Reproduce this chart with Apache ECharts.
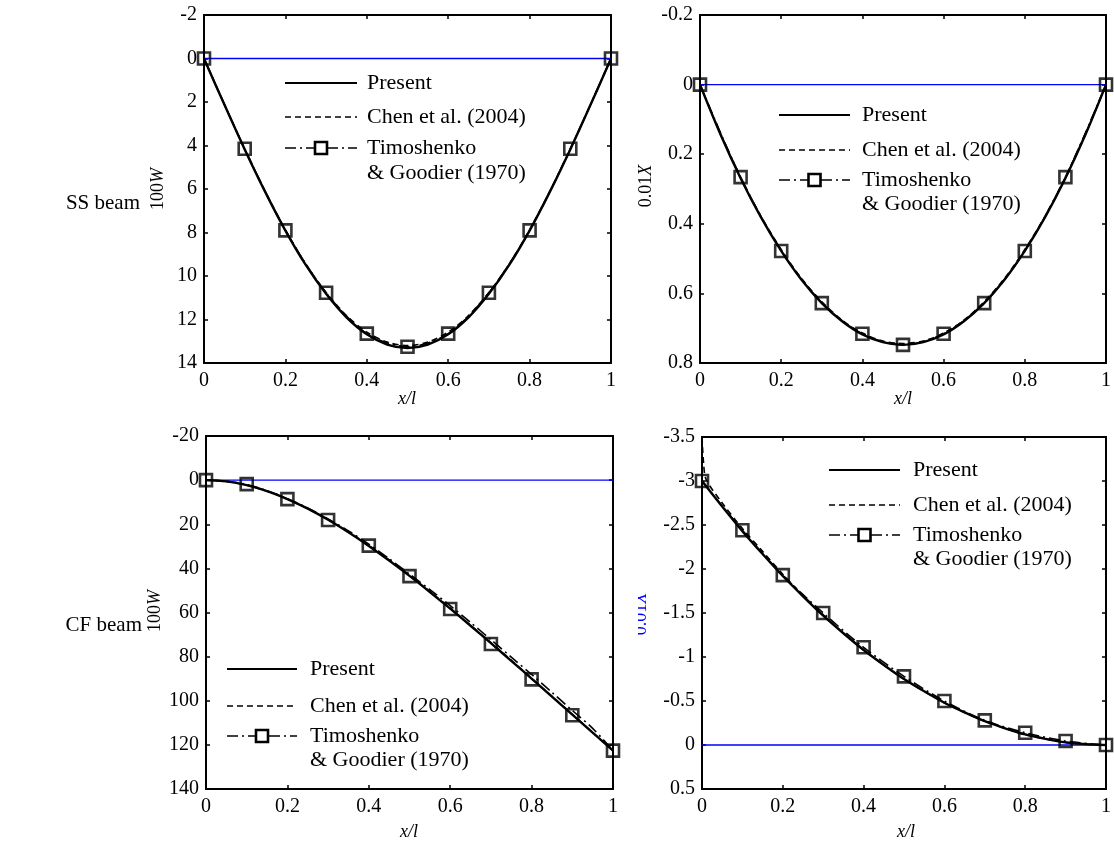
<!DOCTYPE html>
<html><head><meta charset="utf-8">
<script src="https://cdn.jsdelivr.net/npm/echarts@6/dist/echarts.min.js"></script>
<style>html,body{margin:0;padding:0;background:#fff}#c{width:1114px;height:843px}</style>
</head><body><div id="c"></div>
<script>
// ---------- data ----------
const xFine = [0,0.05,0.1,0.15,0.2,0.25,0.3,0.35,0.4,0.45,0.5,0.55,0.6,0.65,0.7,0.75,0.8,0.85,0.9,0.95,1];
const xMarks = [0,0.1,0.2,0.3,0.4,0.5,0.6,0.7,0.8,0.9,1];

// SS beam, 100W
const ssW_present = [0,2.12,4.18,6.12,7.91,9.49,10.82,11.90,12.68,13.15,13.31,13.15,12.68,11.90,10.82,9.49,7.91,6.12,4.18,2.12,0];
const ssW_chen    = [0,2.11,4.16,6.10,7.88,9.45,10.76,11.82,12.58,13.04,13.20,13.04,12.58,11.82,10.76,9.45,7.88,6.10,4.16,2.11,0];
const ssW_timo    = [0,4.15,7.9,10.77,12.65,13.25,12.65,10.77,7.9,4.15,0];

// SS beam, 0.01X
const ssX_present = [0,0.142,0.269,0.381,0.478,0.561,0.628,0.680,0.718,0.740,0.748,0.740,0.718,0.680,0.628,0.561,0.478,0.381,0.269,0.142,0];
const ssX_chen    = [0,0.140,0.266,0.378,0.474,0.557,0.624,0.677,0.714,0.737,0.744,0.737,0.714,0.677,0.624,0.557,0.474,0.378,0.266,0.140,0];
const ssX_timo    = [0,0.266,0.478,0.628,0.716,0.748,0.716,0.628,0.478,0.266,0];

// CF beam, 100W
const cfW_present = [0,0.59,2.29,4.99,8.57,12.93,17.99,23.64,29.82,36.44,43.42,50.72,58.26,66.00,73.90,81.90,89.98,98.11,106.27,114.44,122.6];
const cfW_chen    = [0,0.6,2.3,5.0,8.6,12.9,17.9,23.5,29.6,36.2,43.2,50.5,58.0,65.8,73.7,81.7,89.8,98.0,106.2,114.4,122.6];
const cfW_timoLine= [0,0.5,2.0,4.8,8.4,12.6,17.6,23.0,29.0,35.6,42.6,49.6,56.9,64.5,72.3,80.2,88.1,96.2,104.4,112.5,122.6];
const cfW_timo    = [0,1.8,8.6,18.1,29.7,43.5,58.4,74.3,90.3,106.6,122.6];

// CF beam, 0.01X
const cfX_present = [-3,-2.71,-2.43,-2.17,-1.92,-1.69,-1.47,-1.27,-1.08,-0.91,-0.75,-0.61,-0.48,-0.37,-0.27,-0.19,-0.12,-0.07,-0.03,-0.01,0];
const cfX_chenX   = [0,0.004,0.01,0.05,0.1,0.15,0.2,0.25,0.3,0.35,0.4,0.45,0.5,0.55,0.6,0.65,0.7,0.75,0.8,0.85,0.9,0.95,1];
const cfX_chen    = [-3.5,-3.2,-3.02,-2.75,-2.46,-2.2,-1.94,-1.7,-1.48,-1.27,-1.08,-0.91,-0.75,-0.61,-0.48,-0.37,-0.27,-0.19,-0.12,-0.07,-0.03,-0.01,0];
const cfX_timo    = [-3,-2.44,-1.93,-1.5,-1.11,-0.78,-0.5,-0.28,-0.14,-0.045,0];

const xTicks = {min:0, max:1, interval:0.2};
const yRanges = [
  {min:-2, max:14, interval:2},
  {min:-0.2, max:0.8, interval:0.2},
  {min:-20, max:140, interval:20},
  {min:-3.5, max:0.5, interval:0.5}
];
const legendNames = ['Present','Chen et al. (2004)','Timoshenko','& Goodier (1970)'];

// ---------- layout ----------
const FONT = '"Liberation Serif","Times New Roman",serif';
const grids = [
  {left:204, top:15, width:407, height:348},
  {left:700, top:15, width:406, height:348},
  {left:206, top:436, width:407, height:353},
  {left:702, top:437, width:408, height:352}
];

const zip = (xs, ys) => xs.map((x,i)=>[x, ys[i]]);

const xAxis = [], yAxis = [], series = [];
grids.forEach((g,i)=>{
  const common = {
    type:'value', gridIndex:i,
    axisLine:{show:true, onZero:false, lineStyle:{color:'#000', width:2}},
    axisTick:{show:true, inside:true, length:4, lineStyle:{color:'#000', width:1.5}},
    splitLine:{show:false}
  };
  xAxis.push(Object.assign({}, common, xTicks, {position:'bottom',
    axisLabel:{color:'#000', fontFamily:FONT, fontSize:20, margin:8}}));
  xAxis.push(Object.assign({}, common, xTicks, {position:'top', axisLabel:{show:false}}));
  yAxis.push(Object.assign({}, common, yRanges[i], {position:'left', inverse:true,
    axisLabel:{color:'#000', fontFamily:FONT, fontSize:20, margin:7}}));
  yAxis.push(Object.assign({}, common, yRanges[i], {position:'right', inverse:true, axisLabel:{show:false}}));
});

function addPanel(i, present, chen, chenX, timoLine, timoLineX, timoMarks){
  const xi = i*2, yi = i*2;
  series.push({type:'line', xAxisIndex:xi, yAxisIndex:yi, data:[[0,0],[1,0]], symbol:'none',
    lineStyle:{color:'#0000ff', width:1.3}, silent:true, z:1});
  series.push({type:'line', xAxisIndex:xi, yAxisIndex:yi, data:zip(xFine, present), symbol:'none', smooth:0.3,
    lineStyle:{color:'#000', width:2.4}, z:3});
  series.push({type:'line', xAxisIndex:xi, yAxisIndex:yi, data:zip(chenX, chen), symbol:'none', smooth:0.3,
    lineStyle:{color:'#000', width:1.6, type:[6,4]}, z:3});
  series.push({type:'line', xAxisIndex:xi, yAxisIndex:yi, data:zip(timoLineX, timoLine), symbol:'none', smooth:0.3,
    lineStyle:{color:'#000', width:1.6, type:[11,4,2,4]}, z:3});
  series.push({type:'scatter', xAxisIndex:xi, yAxisIndex:yi, data:zip(xMarks, timoMarks), symbol:'rect', symbolSize:12,
    itemStyle:{color:'rgba(255,255,255,0)', borderColor:'#000', borderWidth:2.6}, z:4});
}
addPanel(0, ssW_present, ssW_chen, xFine, ssW_timo, xMarks, ssW_timo);
addPanel(1, ssX_present, ssX_chen, xFine, ssX_timo, xMarks, ssX_timo);
addPanel(2, cfW_present, cfW_chen, xFine, cfW_timoLine, xFine, cfW_timo);
addPanel(3, cfX_present, cfX_chen, cfX_chenX, cfX_timo, xMarks, cfX_timo);

// ---------- graphic: legends, titles ----------
const graphic = [];
function legend(x0, x1, yP, yC, yT, yG, tx){
  const sq = (x0+x1)/2;
  graphic.push({type:'line', shape:{x1:x0,y1:yP,x2:x1,y2:yP}, style:{stroke:'#000', lineWidth:2}});
  graphic.push({type:'line', shape:{x1:x0,y1:yC,x2:x1,y2:yC}, style:{stroke:'#000', lineWidth:1.6, lineDash:[6,4]}});
  graphic.push({type:'line', shape:{x1:x0,y1:yT,x2:x1,y2:yT}, style:{stroke:'#000', lineWidth:1.6, lineDash:[11,4,2,4]}});
  graphic.push({type:'rect', shape:{x:sq-6,y:yT-6,width:12,height:12}, style:{fill:'#fff', stroke:'#000', lineWidth:2.6}});
  [[yP,0],[yC,1],[yT,2],[yG,3]].forEach(([y,k])=>{
    graphic.push({type:'text', x:tx, y:y, style:{text:legendNames[k], font:'22px '+FONT, fill:'#000',
      textAlign:'left', textVerticalAlign:'middle'}});
  });
}
legend(285, 357, 83, 117, 148, 173, 367);
legend(779, 850, 115, 150, 180, 204, 862);
legend(227, 297, 669, 706, 736, 760, 310);
legend(829, 900, 470, 505, 535, 559, 913);

function yName(x, y, a, b, color){
  graphic.push({type:'text', x:x, y:y, rotation:Math.PI/2, style:{
    text:'{a|'+a+'}{b|'+b+'}', textAlign:'center', textVerticalAlign:'middle',
    rich:{a:{fontFamily:FONT, fontSize:18, fill:color}, b:{fontFamily:FONT, fontSize:18, fontStyle:'italic', fill:color}}}});
}
yName(158, 189, '100', 'W', '#000');
yName(646, 186, '0.01', 'X', '#000');
yName(155, 611, '100', 'W', '#000');
yName(641, 614, '0.01', 'X', '#0000ff');
graphic.push({type:'rect', shape:{x:615,y:580,width:23,height:70}, style:{fill:'#fff'}, z:100});

function xName(x, y){
  graphic.push({type:'text', x:x, y:y, style:{text:'x/l', font:'italic 18px '+FONT, fill:'#000',
    textAlign:'center', textVerticalAlign:'middle'}});
}
xName(407, 399); xName(903, 399); xName(409, 832); xName(906, 832);

graphic.push({type:'text', x:140, y:203, style:{text:'SS beam', font:'21px '+FONT, fill:'#000', textAlign:'right', textVerticalAlign:'middle'}});
graphic.push({type:'text', x:142, y:625, style:{text:'CF beam', font:'21px '+FONT, fill:'#000', textAlign:'right', textVerticalAlign:'middle'}});

const chart = echarts.init(document.getElementById('c'), null, {renderer:'canvas'});
chart.setOption({
  animation:false,
  backgroundColor:'#fff',
  grid:grids,
  xAxis:xAxis,
  yAxis:yAxis,
  series:series,
  graphic:graphic
});
</script>
</body></html>
